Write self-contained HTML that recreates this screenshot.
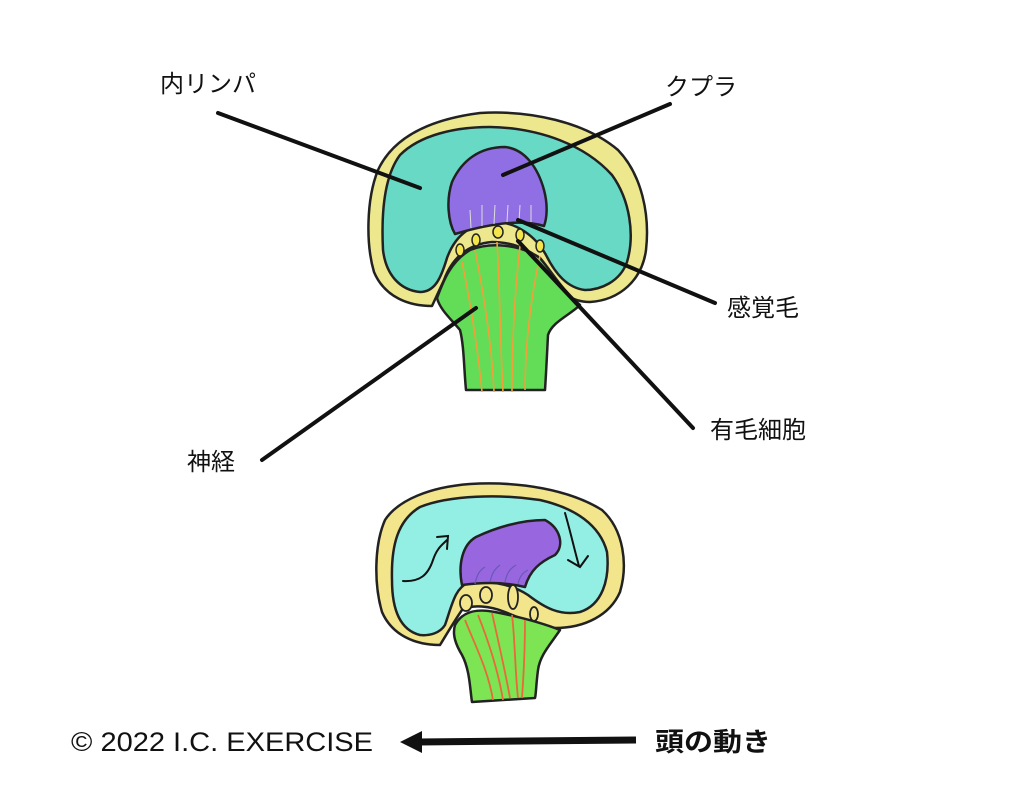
<!DOCTYPE html>
<html><head><meta charset="utf-8"><style>
html,body{margin:0;padding:0;background:#fff;}
svg{display:block}
text{font-family:"Liberation Sans","Noto Sans CJK JP",sans-serif;fill:#111}
</style></head><body>
<svg width="1024" height="794" viewBox="0 0 1024 794" xmlns="http://www.w3.org/2000/svg">
<g stroke="#222" stroke-width="2.5" stroke-linejoin="round">
<!-- top diagram -->
<path fill="#ede88e" d="M432,306 C410,306 385,298 374,272 C366,245 366,200 378,170 C392,140 425,120 480,113 C530,110 585,122 618,150 C642,175 650,215 646,250 C642,280 620,300 590,302 C570,302 560,292 548,270 C538,252 515,242 492,242 C468,244 452,258 444,280 Z"/>
<path fill="#68d9c4" d="M420,292 C400,290 386,275 383,250 C381,210 385,175 400,155 C420,135 455,127 490,127 C540,128 585,145 612,175 C630,200 635,235 627,262 C620,282 600,290 585,290 C568,288 556,275 546,255 C535,235 515,222 495,222 C470,223 455,236 447,258 C441,278 435,292 420,292 Z"/>
<path fill="#8f6fe3" d="M455,234 C448,222 446,200 452,182 C462,160 480,147 505,147 C525,149 538,168 544,190 C548,205 547,218 544,226 C525,220 495,222 455,234 Z"/>
<path fill="#63dc57" d="M437,298 C443,282 450,262 470,250 C490,242 520,244 540,258 C552,272 562,290 580,305 C570,315 552,322 548,335 C547,355 546,375 545,390 L466,390 C464,370 464,345 460,330 C452,320 440,310 437,298 Z"/>
</g>
<g stroke="#f1a13a" stroke-width="1.6" fill="none">
<path d="M462,262 C470,300 478,350 482,392"/><path d="M475,250 C485,300 492,350 494,392"/>
<path d="M497,242 C500,290 500,340 503,392"/><path d="M520,246 C515,290 512,340 512,392"/>
<path d="M540,256 C530,300 525,350 525,390"/>
</g>
<g stroke="#ddd" stroke-width="1" fill="none">
<path d="M470,210 L471,228"/><path d="M482,205 L482,226"/><path d="M495,205 L494,224"/><path d="M508,205 L507,222"/><path d="M520,205 L519,222"/><path d="M531,205 L531,222"/>
</g>
<g fill="#f4e64a" stroke="#222" stroke-width="1.5">
<ellipse cx="460" cy="250" rx="4" ry="6"/><ellipse cx="476" cy="240" rx="4" ry="6"/><ellipse cx="498" cy="232" rx="5" ry="6"/><ellipse cx="520" cy="235" rx="4" ry="6"/><ellipse cx="540" cy="246" rx="4" ry="6"/>
</g>
<g stroke="#111" stroke-width="4" stroke-linecap="round">
<line x1="218" y1="113" x2="420" y2="188"/>
<line x1="670" y1="104" x2="503" y2="175"/>
<line x1="715" y1="303" x2="518" y2="220"/>
<line x1="693" y1="428" x2="518" y2="241"/>
<line x1="262" y1="460" x2="476" y2="308"/>
</g>
<!-- bottom diagram -->
<g stroke="#222" stroke-width="2.5" stroke-linejoin="round">
<path fill="#f3e58c" d="M440,645 C415,645 392,635 382,612 C374,585 374,545 385,520 C398,500 430,487 470,484 C520,481 570,490 602,510 C624,530 628,565 620,592 C610,615 585,628 555,628 C535,625 520,618 505,612 C490,606 472,604 462,610 C455,620 448,632 440,645 Z"/>
<path fill="#93efe4" d="M420,635 C400,630 392,610 392,580 C391,545 398,520 420,507 C450,495 500,494 540,500 C575,508 600,525 607,552 C610,580 602,605 580,612 C560,616 545,608 528,595 C510,583 485,580 468,583 C455,588 452,605 445,625 C440,633 430,636 420,635 Z"/>
<path fill="#9867e0" d="M462,585 C458,565 462,545 476,537 C495,528 520,520 545,520 C560,528 565,545 555,555 C540,562 530,570 525,587 C505,582 485,582 462,585 Z"/>
<path fill="#7de553" d="M455,625 C462,612 475,608 495,612 C520,617 540,622 560,630 C550,645 540,655 538,670 C536,685 536,695 535,698 L472,702 C470,690 470,670 462,655 C456,645 452,635 455,625 Z"/>
</g>
<g stroke="#e86a3a" stroke-width="1.8" fill="none">
<path d="M465,620 C475,645 488,670 493,700"/><path d="M478,615 C488,640 498,670 503,700"/>
<path d="M492,613 C498,640 505,670 510,698"/><path d="M512,615 C515,640 515,670 518,698"/>
<path d="M525,620 C525,645 524,670 522,698"/>
</g>
<g stroke="#6a58b8" stroke-width="1.2" fill="none">
<path d="M475,584 C477,574 480,570 485,567"/><path d="M490,582 C492,572 496,568 500,565"/><path d="M505,582 C507,572 511,568 516,565"/><path d="M518,584 C520,575 524,572 528,570"/>
</g>
<g fill="#f3e58c" stroke="#222" stroke-width="1.8">
<ellipse cx="466" cy="603" rx="6" ry="8"/><ellipse cx="486" cy="595" rx="6" ry="8"/><ellipse cx="513" cy="597" rx="5" ry="12"/><ellipse cx="534" cy="614" rx="4" ry="7"/>
</g>
<g stroke="#111" stroke-width="2" fill="none" stroke-linecap="round">
<path d="M403,581 C420,582 428,575 433,560 C437,548 442,545 447,540"/><path d="M437,537 L448,536 L447,549"/>
<path d="M565,513 C570,530 574,548 579,566"/><path d="M568,560 L580,567 L588,556"/>
</g>
<!-- bottom arrow -->
<line x1="418" y1="742" x2="636" y2="740" stroke="#111" stroke-width="7"/>
<polygon points="400,742 422,731 422,753" fill="#111"/>
<!-- labels -->
<text x="160" y="92" font-size="24">内リンパ</text>
<text x="665" y="95" font-size="24">クプラ</text>
<text x="727" y="316" font-size="24">感覚毛</text>
<text x="710" y="438" font-size="24">有毛細胞</text>
<text x="187" y="470" font-size="24">神経</text>
<text x="71" y="751" font-size="27" textLength="302" lengthAdjust="spacingAndGlyphs">© 2022 I.C. EXERCISE</text>
<text x="655" y="751" font-size="26" font-weight="bold" textLength="116" lengthAdjust="spacingAndGlyphs">頭の動き</text>
</svg>
</body></html>
